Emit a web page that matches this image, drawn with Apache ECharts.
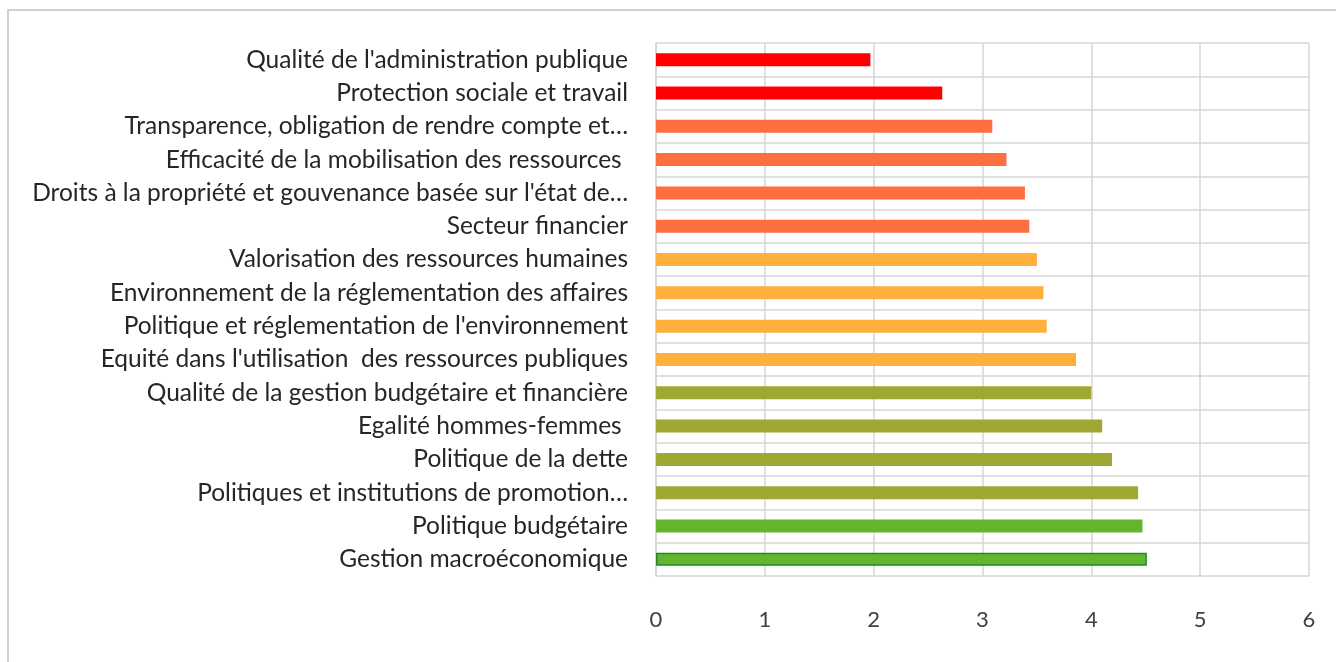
<!DOCTYPE html>
<html>
<head>
<meta charset="utf-8">
<script src="https://cdn.jsdelivr.net/npm/echarts@6/dist/echarts.min.js"></script>
<style>
html,body{margin:0;padding:0;background:#fff;}
#chart{width:1336px;height:662px;}
</style>
</head>
<body>
<div id="chart"></div>
<script>
const categories = [
  "Qualité de l'administration publique",
  "Protection sociale et travail",
  "Transparence, obligation de rendre compte et…",
  "Efficacité de la mobilisation des ressources ",
  "Droits à la propriété et gouvenance basée sur l'état de…",
  "Secteur financier",
  "Valorisation des ressources humaines",
  "Environnement de la réglementation des affaires",
  "Politique et réglementation de l'environnement",
  "Equité dans l'utilisation  des ressources publiques",
  "Qualité de la gestion budgétaire et financière",
  "Egalité hommes-femmes ",
  "Politique de la dette",
  "Politiques et institutions de promotion…",
  "Politique budgétaire",
  "Gestion macroéconomique"
];
const values = [1.97, 2.63, 3.09, 3.22, 3.39, 3.43, 3.50, 3.56, 3.59, 3.86, 4.00, 4.10, 4.19, 4.43, 4.47, 4.51];
const tiers = [0, 0, 1, 1, 1, 1, 2, 2, 2, 2, 3, 3, 3, 3, 4, 5];
const xTicks = [0, 1, 2, 3, 4, 5, 6];

const palette = ['#FF0000', '#FF6E3E', '#FFAF3C', '#9FA832', '#64B52E', '#64B52E'];

const chart = echarts.init(document.getElementById('chart'));
chart.setOption({
  animation: false,
  backgroundColor: '#ffffff',
  graphic: [{
    type: 'rect',
    shape: { x: 8, y: 10, width: 1340, height: 670 },
    style: { fill: 'none', stroke: '#d0d0d0', lineWidth: 2 },
    silent: true
  }],
  grid: { left: 656, right: 27, top: 43, bottom: 86, containLabel: false },
  xAxis: {
    type: 'value',
    min: xTicks[0],
    max: xTicks[xTicks.length - 1],
    interval: 1,
    axisLine: { show: false },
    axisTick: { show: false },
    axisLabel: { margin: 33, fontFamily: 'Lato', fontSize: 22, color: '#404040' },
    splitLine: { show: true, lineStyle: { color: '#d6d6d6', width: 1.5 } }
  },
  yAxis: {
    type: 'category',
    inverse: true,
    data: categories,
    axisLine: { show: true, lineStyle: { color: '#d6d6d6', width: 1.5 } },
    axisTick: { show: false },
    axisLabel: { margin: 28, fontFamily: 'Lato', fontSize: 24.5, color: '#262626' },
    splitLine: { show: true, lineStyle: { color: '#d6d6d6', width: 1.5 } }
  },
  series: [{
    type: 'bar',
    barWidth: 13,
    data: values.map((v, i) => ({
      value: v,
      itemStyle: tiers[i] === 5
        ? { color: palette[5], borderColor: '#1E8C2A', borderWidth: 1.5 }
        : { color: palette[tiers[i]] }
    }))
  }]
});
</script>
</body>
</html>
